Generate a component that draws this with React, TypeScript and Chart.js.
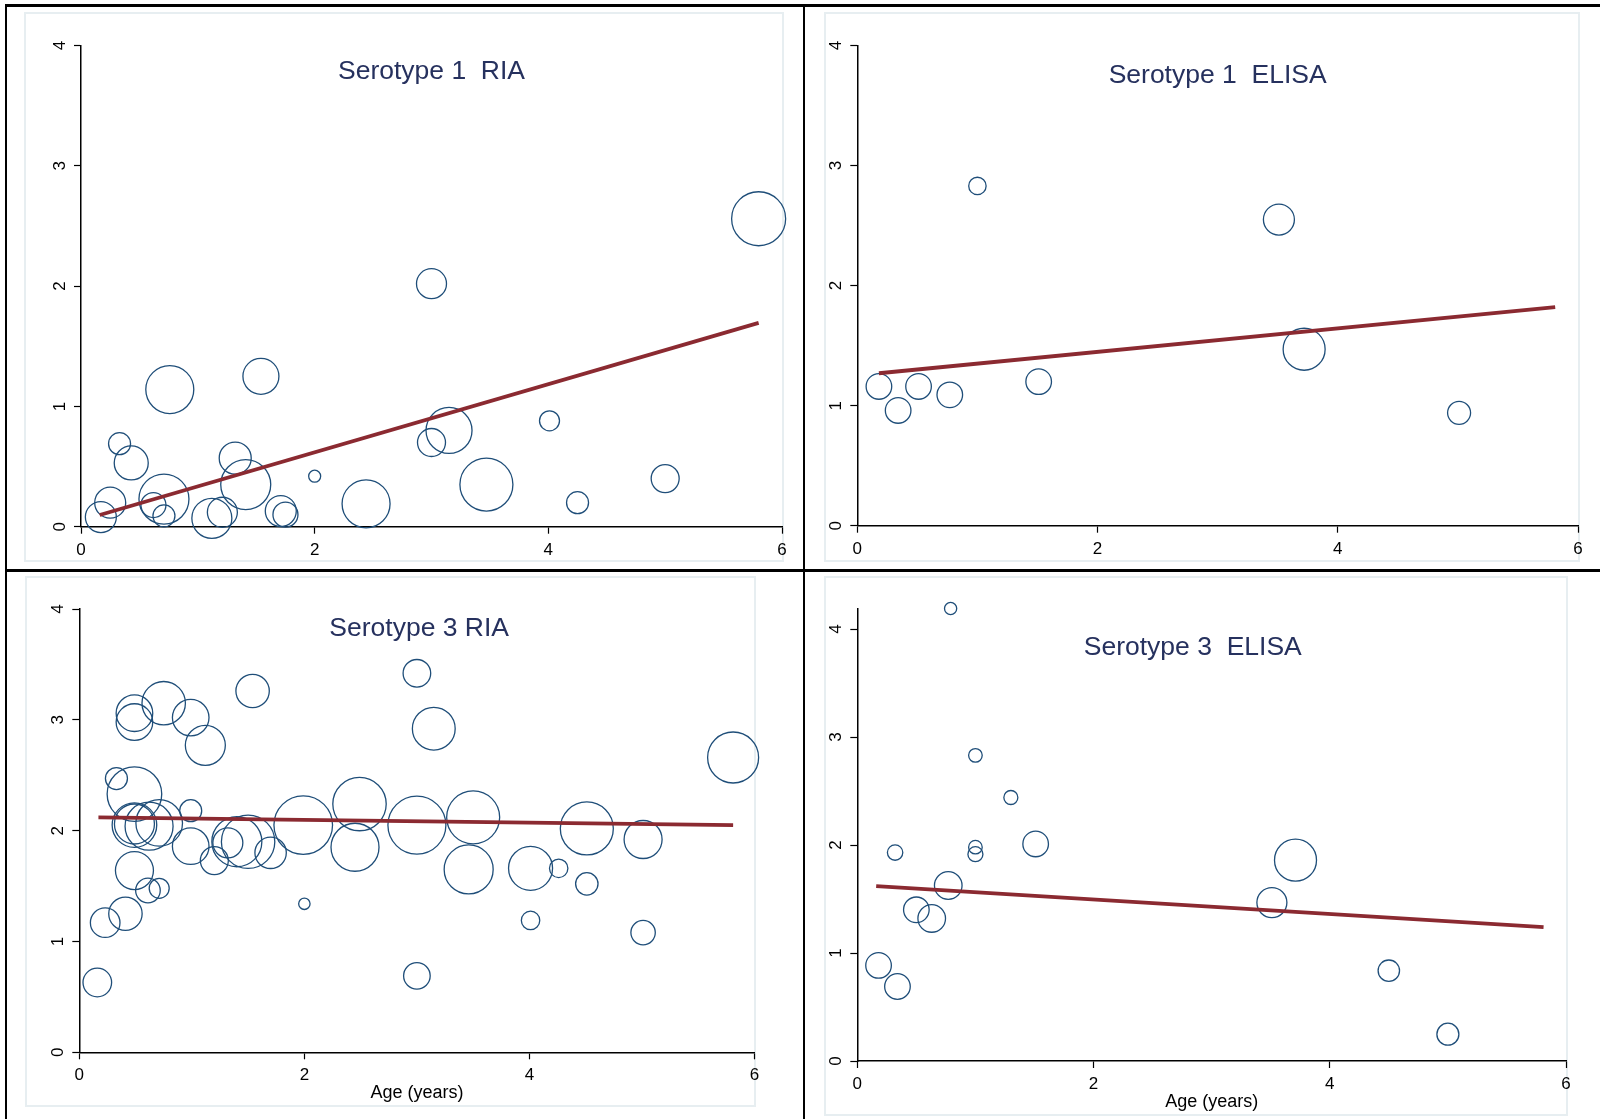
import React, { useEffect, useRef } from "react";
import { Chart, registerables } from "chart.js";

Chart.register(...registerables);

// ---------- shared tick labels ----------
const xTickValues = [0, 2, 4, 6];
const yTickValues = [0, 1, 2, 3, 4];
const xAxisTitle = "Age (years)";

// ---------- Serotype 1 RIA ----------
const s1RiaAge = [0.17, 0.25, 0.33, 0.43, 0.76, 0.62, 0.71, 0.71, 1.12, 1.21, 1.32, 1.41, 1.54, 1.71, 1.75, 2.0, 2.44, 3.0, 3.0, 3.15, 3.47, 4.01, 4.25, 5.0, 5.8];
const s1RiaLevel = [0.08, 0.2, 0.69, 0.53, 1.14, 0.18, 0.23, 0.09, 0.07, 0.12, 0.57, 0.35, 1.25, 0.13, 0.1, 0.42, 0.19, 2.02, 0.7, 0.8, 0.35, 0.88, 0.2, 0.4, 2.56];
const s1RiaWeight = [15.5, 15.5, 11, 17, 24, 12.5, 25, 11, 20, 15, 16, 25, 18, 15.5, 12.5, 6, 24, 15, 14, 23, 26.5, 10, 11, 14, 27];
const s1RiaFitAge = [0.16, 5.8];
const s1RiaFitLevel = [0.097, 1.694];

// ---------- Serotype 1 ELISA ----------
const s1ElisaAge = [0.18, 0.34, 0.51, 0.77, 1.0, 1.51, 3.51, 3.72, 5.01];
const s1ElisaLevel = [1.16, 0.96, 1.16, 1.09, 2.83, 1.2, 2.55, 1.47, 0.94];
const s1ElisaWeight = [12.8, 12.8, 12.8, 12.8, 8.7, 12.8, 15.5, 21, 11.5];
const s1ElisaFitAge = [0.18, 5.81];
const s1ElisaFitLevel = [1.27, 1.82];

// ---------- Serotype 3 RIA ----------
const s3RiaAge = [0.49, 0.49, 0.75, 0.99, 1.12, 1.54, 0.33, 0.49, 0.49, 0.49, 0.62, 0.71, 0.99, 0.99, 1.2, 1.32, 1.4, 1.5, 1.7, 1.99, 2.49, 2.45, 0.49, 0.61, 0.71, 2.0, 0.41, 0.23, 0.16, 3.0, 3.15, 3.0, 3.0, 3.5, 3.46, 4.01, 4.01, 4.26, 4.51, 4.51, 5.01, 5.01, 5.81];
const s3RiaLevel = [3.06, 2.98, 3.15, 3.02, 2.77, 3.26, 2.47, 2.33, 2.06, 2.05, 2.04, 2.07, 2.18, 1.86, 1.73, 1.89, 1.9, 1.9, 1.8, 2.05, 2.24, 1.85, 1.64, 1.46, 1.48, 1.34, 1.25, 1.17, 0.63, 3.42, 2.92, 2.05, 0.69, 2.12, 1.65, 1.66, 1.19, 1.66, 2.02, 1.52, 1.92, 1.08, 2.66];
const s3RiaWeight = [18.3, 18.3, 21.7, 18.3, 20, 16.7, 11, 27.3, 20, 22.3, 24, 23.3, 11, 18.3, 14, 15, 25, 26.7, 15.7, 29.3, 26.7, 24, 19, 12.3, 10, 5.7, 16.7, 14.8, 14.3, 13.8, 21.4, 29, 13.3, 26.5, 24.5, 22, 9.2, 9.2, 26.5, 11.2, 19, 12.2, 25.5];
const s3RiaFitAge = [0.17, 5.81];
const s3RiaFitLevel = [2.12, 2.05];

// ---------- Serotype 3 ELISA ----------
const s3ElisaAge = [0.18, 0.34, 0.32, 0.5, 0.63, 0.77, 0.79, 1.0, 1.0, 1.0, 1.3, 1.51, 3.51, 3.71, 4.5, 5.0];
const s3ElisaLevel = [0.885, 0.69, 1.93, 1.4, 1.32, 1.625, 4.19, 2.83, 1.98, 1.915, 2.44, 2.01, 1.467, 1.86, 0.836, 0.248];
const s3ElisaWeight = [12.8, 12.8, 7.7, 12.8, 13.8, 13.8, 6.1, 6.8, 6.8, 7.5, 7, 12.8, 15, 21, 10.7, 11];
const s3ElisaFitAge = [0.16, 5.81];
const s3ElisaFitLevel = [1.62, 1.24];

// ---------- styles ----------
const FONT = "'Liberation Sans', Arial, Helvetica, sans-serif";
const BUBBLE_COLOR = "#1f4e79";
const FIT_COLOR = "#8b2a31";
const TITLE_COLOR = "#26315e";
const Y_AXIS_W = 40;

type Rect = { left: number; top: number; width: number; height: number };
type Area = { left: number; right: number; top: number; bottom: number };

interface PanelSpec {
  title: string;
  titleAt: [number, number];
  age: number[];
  level: number[];
  weight: number[];
  fitAge: number[];
  fitLevel: number[];
  yMax: number;
  xTitle: string | null;
  canvas: Rect;
  area: Area;
}

const panels: PanelSpec[] = [
  {
    title: "Serotype 1  RIA",
    titleAt: [3.0, 3.72],
    age: s1RiaAge, level: s1RiaLevel, weight: s1RiaWeight,
    fitAge: s1RiaFitAge, fitLevel: s1RiaFitLevel,
    yMax: 4, xTitle: null,
    canvas: { left: 8, top: 8, width: 794, height: 560 },
    area: { left: 81, right: 782, top: 45.5, bottom: 526.7 },
  },
  {
    title: "Serotype 1  ELISA",
    titleAt: [3.0, 3.69],
    age: s1ElisaAge, level: s1ElisaLevel, weight: s1ElisaWeight,
    fitAge: s1ElisaFitAge, fitLevel: s1ElisaFitLevel,
    yMax: 4, xTitle: null,
    canvas: { left: 806, top: 8, width: 794, height: 560 },
    area: { left: 857.3, right: 1578, top: 45.5, bottom: 525.7 },
  },
  {
    title: "Serotype 3 RIA",
    titleAt: [3.02, 3.76],
    age: s3RiaAge, level: s3RiaLevel, weight: s3RiaWeight,
    fitAge: s3RiaFitAge, fitLevel: s3RiaFitLevel,
    yMax: 4, xTitle: xAxisTitle,
    canvas: { left: 8, top: 573, width: 794, height: 546 },
    area: { left: 79.3, right: 754.5, top: 609, bottom: 1052.3 },
  },
  {
    title: "Serotype 3  ELISA",
    titleAt: [2.84, 3.76],
    age: s3ElisaAge, level: s3ElisaLevel, weight: s3ElisaWeight,
    fitAge: s3ElisaFitAge, fitLevel: s3ElisaFitLevel,
    yMax: 4.19, xTitle: xAxisTitle,
    canvas: { left: 806, top: 573, width: 794, height: 546 },
    area: { left: 857.3, right: 1566, top: 608.5, bottom: 1061 },
  },
];

const titlePlugin = {
  id: "panelTitle",
  afterDatasetsDraw(chart: any, _args: any, opts: any) {
    const { ctx, scales } = chart;
    const x = scales.x.getPixelForValue(opts.at[0]);
    const y = scales.y.getPixelForValue(opts.at[1]);
    ctx.save();
    ctx.font = `26.5px ${FONT}`;
    ctx.fillStyle = TITLE_COLOR;
    ctx.textAlign = "center";
    ctx.textBaseline = "alphabetic";
    ctx.fillText(opts.text, x, y);
    ctx.restore();
  },
};

function Panel({ spec }: { spec: PanelSpec }) {
  const ref = useRef<HTMLCanvasElement | null>(null);

  useEffect(() => {
    if (!ref.current) return;
    const { canvas, area } = spec;
    const xAxisH = spec.xTitle ? 52 : 40;
    const padding = {
      left: area.left - canvas.left - Y_AXIS_W,
      right: canvas.left + canvas.width - area.right,
      top: area.top - canvas.top,
      bottom: canvas.top + canvas.height - area.bottom - xAxisH,
    };

    const bubbles = spec.age.map((a, i) => ({ x: a, y: spec.level[i], r: spec.weight[i] }));
    const fit = spec.fitAge.map((a, i) => ({ x: a, y: spec.fitLevel[i] }));

    const axisCommon = {
      type: "linear" as const,
      grid: {
        drawOnChartArea: false,
        drawTicks: true,
        tickLength: 7,
        tickWidth: 1.2,
        tickColor: "#000",
      },
      border: { display: true, color: "#000", width: 1.5 },
    };

    const chart = new Chart(ref.current, {
      type: "bubble",
      data: {
        datasets: [
          {
            type: "line" as any,
            data: fit as any,
            borderColor: FIT_COLOR,
            borderWidth: 3.8,
            pointRadius: 0,
            fill: false,
            order: 0,
            clip: false as any,
          } as any,
          {
            type: "bubble",
            data: bubbles,
            backgroundColor: "rgba(0,0,0,0)",
            borderColor: BUBBLE_COLOR,
            borderWidth: 1.3,
            order: 1,
            clip: false as any,
          } as any,
        ],
      },
      options: {
        animation: false,
        responsive: false,
        maintainAspectRatio: false,
        events: [],
        layout: { padding, autoPadding: false },
        plugins: {
          legend: { display: false },
          tooltip: { enabled: false },
          title: { display: false },
          panelTitle: { text: spec.title, at: spec.titleAt },
        } as any,
        scales: {
          x: {
            ...axisCommon,
            min: 0,
            max: 6,
            afterBuildTicks: (s: any) => {
              s.ticks = xTickValues.map((v) => ({ value: v }));
            },
            afterFit: (s: any) => {
              s.height = xAxisH;
            },
            ticks: {
              font: { family: FONT, size: 17 },
              color: "#000",
              padding: 6,
              maxRotation: 0,
              minRotation: 0,
            },
            title: {
              display: !!spec.xTitle,
              text: spec.xTitle || "",
              font: { family: FONT, size: 18 },
              color: "#000",
              padding: 0,
            },
          },
          y: {
            ...axisCommon,
            min: 0,
            max: spec.yMax,
            afterBuildTicks: (s: any) => {
              s.ticks = yTickValues.map((v) => ({ value: v }));
            },
            afterFit: (s: any) => {
              s.width = Y_AXIS_W;
            },
            ticks: {
              font: { family: FONT, size: 17 },
              color: "#000",
              padding: 9,
              minRotation: 90,
              maxRotation: 90,
              crossAlign: "center",
              includeBounds: false,
            },
          },
        } as any,
      },
      plugins: [titlePlugin as any],
    });

    return () => chart.destroy();
  }, [spec]);

  const c = spec.canvas;
  return (
    <canvas
      ref={ref}
      width={c.width}
      height={c.height}
      style={{ position: "absolute", left: c.left, top: c.top, width: c.width, height: c.height }}
    />
  );
}

const lightBoxes: Area[] = [
  { left: 24, top: 12, right: 784, bottom: 562 },
  { left: 824, top: 12, right: 1580, bottom: 562 },
  { left: 25, top: 576, right: 756, bottom: 1107 },
  { left: 824, top: 576, right: 1568, bottom: 1116 },
];

export default function App() {
  return (
    <div
      style={{
        position: "absolute",
        left: 0,
        top: 0,
        width: 1600,
        height: 1119,
        background: "#fff",
        overflow: "hidden",
      }}
    >
      {lightBoxes.map((b, i) => (
        <div
          key={"lb" + i}
          style={{
            position: "absolute",
            left: b.left,
            top: b.top,
            width: b.right - b.left,
            height: b.bottom - b.top,
            border: "2px solid #e7eef1",
            boxSizing: "border-box",
          }}
        />
      ))}
      {panels.map((p, i) => (
        <Panel key={i} spec={p} />
      ))}
      <div style={{ position: "absolute", left: 5, top: 4, width: 1595, height: 3, background: "#000" }} />
      <div style={{ position: "absolute", left: 5, top: 4, width: 2, height: 1115, background: "#000" }} />
      <div style={{ position: "absolute", left: 803, top: 4, width: 2, height: 1115, background: "#000" }} />
      <div style={{ position: "absolute", left: 5, top: 569, width: 1595, height: 3, background: "#000" }} />
    </div>
  );
}
